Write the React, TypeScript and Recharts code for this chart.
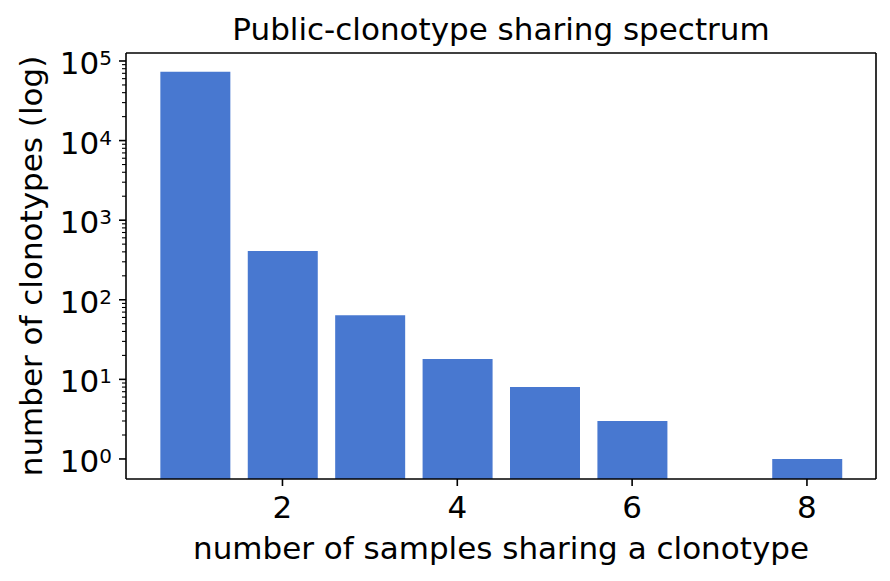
import { Bar, BarChart, Label, ReferenceLine, XAxis, YAxis } from 'recharts';

// number of samples sharing a clonotype
const sharingCounts = [1, 2, 3, 4, 5, 6, 8];
// number of clonotypes per sharing level
const clonotypeCounts = [73000, 410, 64, 18, 8, 3, 1];

const xTicks = [2, 4, 6, 8];
const yMajorTicks = [1, 10, 100, 1000, 10000, 100000];
const minorSteps = [2, 3, 4, 5, 6, 7, 8, 9];
const yTicks = yMajorTicks
  .flatMap((d) => [d, ...minorSteps.map((m) => d * m)])
  .filter((v) => v < 126000);

const X_DOMAIN: [number, number] = [0.21, 8.79];
const Y_DOMAIN: [number, number] = [0.56, 126000];

const data = sharingCounts.map((n, i) => ({ n, count: clonotypeCounts[i] }));

const FONT = '"DejaVu Sans", sans-serif';
const BLUE = '#4878d0';

function LogTick({ x, y, payload }: any) {
  const v = payload.value;
  const exp = Math.log10(v);
  const major = Math.abs(exp - Math.round(exp)) < 1e-9;
  return (
    <g>
      <line x1={x - (major ? 7 : 4)} x2={x} y1={y} y2={y} stroke="#000" strokeWidth={major ? 1.6 : 1.1} />
      {major && (
        <text x={x - 14} y={y + 13} textAnchor="end" fontFamily={FONT} fontSize={31} fill="#000">
          <tspan>10</tspan>
          <tspan dy={-9} fontSize={20}>
            {Math.round(exp)}
          </tspan>
        </text>
      )}
    </g>
  );
}

export default function App() {
  return (
    <div style={{ position: 'absolute', left: 0, top: 0, width: 890, height: 581, background: '#fff' }}>
      <BarChart width={890} height={581} data={data} margin={{ top: 53, right: 14, bottom: 0, left: 0 }}>
        <XAxis
          dataKey="n"
          type="number"
          domain={X_DOMAIN}
          ticks={xTicks}
          allowDataOverflow
          height={102}
          axisLine={{ stroke: '#000', strokeWidth: 1.6 }}
          tickLine={{ stroke: '#000', strokeWidth: 1.6 }}
          tickSize={7}
          tick={{ fill: '#000', fontSize: 31, fontFamily: FONT, dy: 8 }}
        >
          <Label
            value="number of samples sharing a clonotype"
            position="insideBottom"
            offset={22}
            fill="#000"
            fontSize={31}
            fontFamily={FONT}
          />
        </XAxis>
        <YAxis
          scale="log"
          domain={Y_DOMAIN}
          allowDataOverflow
          ticks={yTicks}
          interval={0}
          width={126}
          axisLine={{ stroke: '#000', strokeWidth: 1.6 }}
          tickLine={false}
          tickSize={0}
          tickMargin={0}
          tick={<LogTick />}
        >
          <Label
            value="number of clonotypes (log)"
            angle={-90}
            position="insideLeft"
            offset={31}
            fill="#000"
            fontSize={31}
            fontFamily={FONT}
            style={{ textAnchor: 'middle' }}
          />
        </YAxis>
        <ReferenceLine y={Y_DOMAIN[1]} stroke="#000" strokeWidth={1.6} ifOverflow="visible" />
        <ReferenceLine x={X_DOMAIN[1]} stroke="#000" strokeWidth={1.6} ifOverflow="visible" />
        <Bar dataKey="count" fill={BLUE} barSize={70} isAnimationActive={false} />
      </BarChart>
      <div
        style={{
          position: 'absolute',
          left: 126,
          width: 750,
          top: 10,
          textAlign: 'center',
          fontFamily: FONT,
          fontSize: 31,
          lineHeight: '38px',
          color: '#000',
        }}
      >
        Public-clonotype sharing spectrum
      </div>
    </div>
  );
}
